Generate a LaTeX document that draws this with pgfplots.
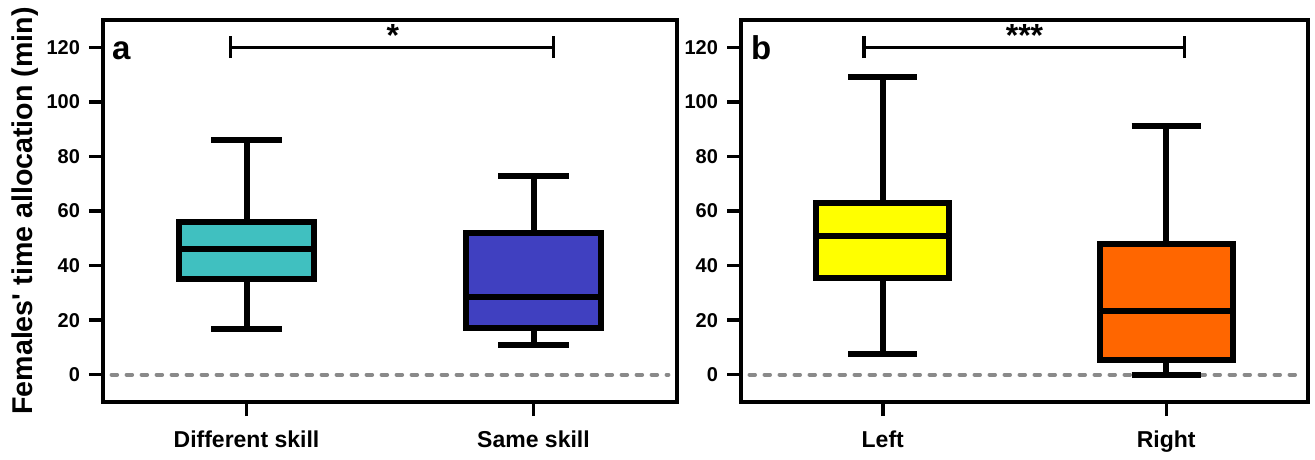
\documentclass[border=0pt]{standalone}
\usepackage{fontspec}
\setmainfont{Liberation Sans}
\usepackage{pgfplots}
\pgfplotsset{compat=1.18}
\usepgfplotslibrary{statistics}
\definecolor{cteal}{HTML}{40C0C0}
\definecolor{cblue}{HTML}{4040C0}
\definecolor{cyellow}{HTML}{FFFF00}
\definecolor{corange}{HTML}{FF6600}
\definecolor{cgray}{HTML}{8A8A8A}
\pgfplotsset{panel/.style={
  scale only axis, height=191pt,
  xmin=0.5, xmax=2.5, ymin=-10, ymax=130,
  xtick={1,2}, ytick={0,20,...,120},
  tick align=outside, xtick pos=left, ytick pos=left,
  major tick length=7pt,
  every tick/.style={black, line width=1.75pt},
  axis line style={line width=2.25pt},
  yticklabel style={font=\bfseries\fontsize{10}{12}\selectfont, xshift=-1pt},
  xticklabel style={font=\bfseries\fontsize{11.5}{13}\selectfont, yshift=-4pt},
  /pgf/number format/assume math mode=true,
  boxplot/draw direction=y,
  boxplot/box extend=0.47, boxplot/whisker extend=0.245,
  boxplot/every median/.style={line width=3pt},
  boxplot/every whisker/.style={line width=3pt},
  boxplot/every box/.style={line width=3pt},
  clip=false,
}}
\tikzset{bx/.style={draw=black, line width=3pt, solid},
  zl/.style={cgray, line width=2pt, line cap=round, dash pattern=on 2.75pt off 4.75pt},
  sig/.style={black, line width=1.6pt}}
\begin{document}
\begin{tikzpicture}
\path (-51.5pt,-25pt) rectangle (606pt,201pt);
\begin{axis}[panel, width=287pt, at={(0pt,0pt)},
  xticklabels={Different skill, Same skill},
  ylabel={Females\textquotesingle\ time allocation (min)},
  ylabel style={font=\bfseries\fontsize{14.3}{16}\selectfont, yshift=-3pt}]
\addplot[zl] coordinates {(0.53,0) (2.47,0)};
\addplot[bx, fill=cteal, boxplot prepared={draw position=1, median=46, upper quartile=56, lower quartile=35, upper whisker=86, lower whisker=16.7}] coordinates {};
\addplot[bx, fill=cblue, boxplot prepared={draw position=2, median=28.3, upper quartile=51.8, lower quartile=17, upper whisker=72.7, lower whisker=10.9}] coordinates {};
\addplot[sig] coordinates {(0.945,120) (2.07,120)};
\addplot[sig] coordinates {(0.945,116) (0.945,124)};
\addplot[sig] coordinates {(2.07,116) (2.07,124)};
\node[anchor=base, inner sep=0pt, font=\bfseries\fontsize{16}{16}\selectfont] at (axis cs:1.51,120.3) {*};
\node[anchor=base west, inner sep=0pt, font=\bfseries\fontsize{16.5}{16}\selectfont] at (axis cs:0.53,115.5) {a};
\end{axis}
\begin{axis}[panel, width=283.5pt, at={(319pt,0pt)},
  xticklabels={Left, Right}]
\addplot[zl] coordinates {(0.53,0) (2.47,0)};
\addplot[bx, fill=cyellow, boxplot prepared={draw position=1, median=50.7, upper quartile=63, lower quartile=35.3, upper whisker=109, lower whisker=7.6}] coordinates {};
\addplot[bx, fill=corange, boxplot prepared={draw position=2, median=23.2, upper quartile=48, lower quartile=5.5, upper whisker=91, lower whisker=0}] coordinates {};
\addplot[sig] coordinates {(0.934,120) (2.063,120)};
\addplot[sig] coordinates {(0.934,116) (0.934,124)};
\addplot[sig] coordinates {(2.063,116) (2.063,124)};
\node[anchor=base, inner sep=0pt, font=\bfseries\fontsize{16}{16}\selectfont] at (axis cs:1.5,120.3) {***};
\node[anchor=base west, inner sep=0pt, font=\bfseries\fontsize{16.5}{16}\selectfont] at (axis cs:0.534,115.5) {b};
\end{axis}
\end{tikzpicture}
\end{document}
